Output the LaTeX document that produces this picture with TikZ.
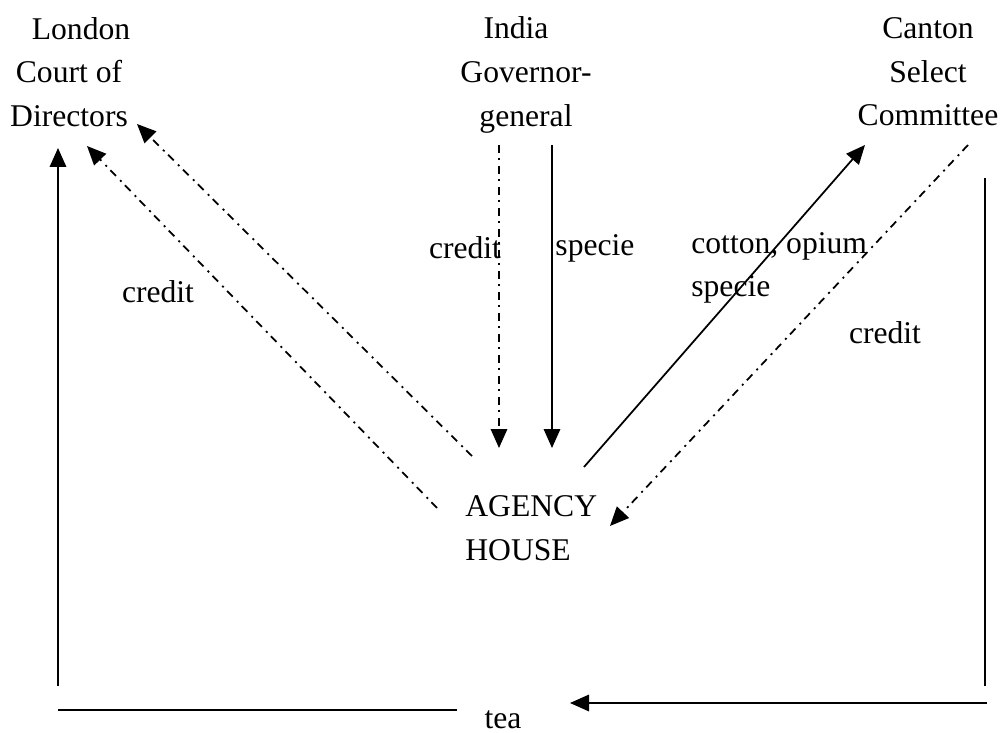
\documentclass[tikz,border=0pt]{standalone}
\usepackage{fontspec}
\setmainfont{Liberation Serif}
\usetikzlibrary{arrows.meta, positioning}
\tikzstyle{place} = [align=center, inner sep=0pt, font=\fontsize{18}{24.8}\selectfont]
\tikzstyle{tag} = [inner sep=0pt, font=\fontsize{18}{24.8}\selectfont]
\tikzstyle{goods} = [line width=1pt, -{Triangle[length=3.8mm,width=3.3mm]}]
\tikzstyle{creditline} = [goods, dash pattern=on 1.6mm off 1mm on 0.4mm off 1.2mm]

\begin{document}
\begin{tikzpicture}[x=0.02cm, y=-0.02cm]
\useasboundingbox (0,0) rectangle (1001,733);

% the three offices and the agency house
\node[place] (london) at (69,72) {\hspace*{0.48cm}London\\Court of\\Directors};
\node[place] (india) at (526,75) {India\hspace*{0.4cm}\\Governor-\\general};
\node[place] (canton) at (928,72) {Canton\\Select\\Committee};
\node[tag, align=left, anchor=west] (agency) at (465,528) {AGENCY\\HOUSE};

% labels
\node[tag] (creditlondon) at (158,292) {credit};
\node[tag] (creditindia) at (465,248) {credit};
\node[tag] (specieindia) at (595,248) {specie};
\node[tag, align=left, anchor=west] (goodscanton) at (691,268) {cotton, opium\\specie};
\node[tag] (creditcanton) at (885,333) {credit};
\node[tag] (tea) at (503,720) {tea};

% end points of the flows
\coordinate (la) at (472,456);
\coordinate (lb) at (437,508);
\coordinate (lat) at (137,124);
\coordinate (lbt) at (87,146);
\coordinate (ic) at (499,145);
\coordinate (ict) at (499,448);
\coordinate (is) at (552,145);
\coordinate (ist) at (552,448);
\coordinate (cs) at (584,467);
\coordinate (cst) at (865,145);
\coordinate (cc) at (968,145);
\coordinate (cct) at (610,526);
\coordinate (lup) at (58,686);
\coordinate (lupt) at (58,148);
\coordinate (rtop) at (985,178);
\coordinate (rbot) at (985,686);
\coordinate (tr) at (987,703);
\coordinate (trt) at (570,703);
\coordinate (tl) at (58,710);
\coordinate (tle) at (457,710);

\draw[creditline] (la) -- (lat);
\draw[creditline] (lb) -- (lbt);
\draw[creditline] (ic) -- (ict);
\draw[goods] (is) -- (ist);
\draw[goods] (cs) -- (cst);
\draw[creditline] (cc) -- (cct);

% tea round trip
\draw[goods] (lup) -- (lupt);
\draw[line width=1pt] (rtop) -- (rbot);
\draw[goods] (tr) -- (trt);
\draw[line width=1pt] (tl) -- (tle);
\end{tikzpicture}
\end{document}
